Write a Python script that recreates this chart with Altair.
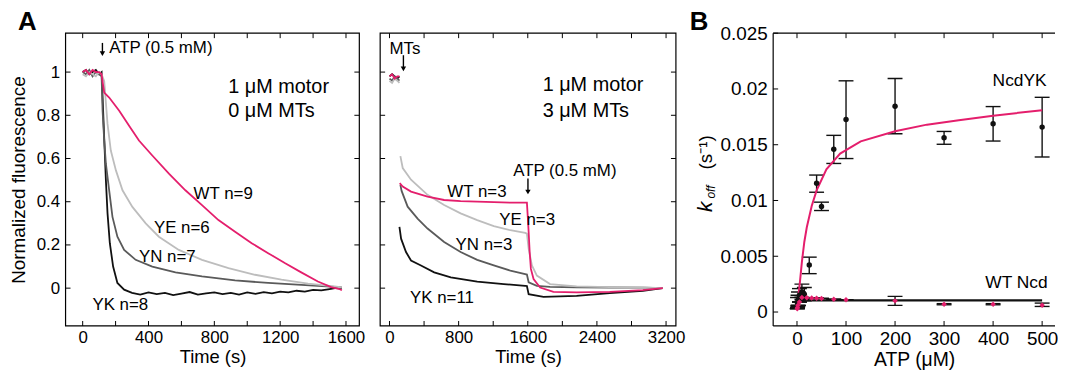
import altair as alt
import pandas as pd

FONT = "Liberation Sans"
PINK = "#e41e6c"
LGRAY = "#bdbdbd"
DGRAY = "#5a5a5a"
BLACK = "#111111"

# ---------------- Panel A (left): 1 uM motor, 0 uM MTs ----------------
a0_wt_t = [0, 20, 40, 60, 80, 100, 115, 122, 131, 161, 222, 282, 342, 423, 524, 624, 725, 825, 926, 1027, 1127, 1228, 1328, 1429, 1510, 1560, 1575]
a0_wt_v = [1.0, 1.01, 0.99, 1.01, 1.0, 1.0, 0.99, 0.95, 0.905, 0.882, 0.821, 0.752, 0.683, 0.614, 0.53, 0.453, 0.384, 0.315, 0.261, 0.208, 0.162, 0.116, 0.073, 0.031, 0.005, -0.004, -0.01]
a0_ye_t = [0, 20, 40, 60, 80, 100, 115, 131, 151, 171, 202, 242, 302, 383, 463, 584, 725, 886, 1047, 1208, 1369, 1530, 1575]
a0_ye_v = [0.99, 0.98, 1.0, 0.99, 0.98, 1.0, 0.99, 0.958, 0.76, 0.637, 0.545, 0.453, 0.376, 0.3, 0.238, 0.177, 0.131, 0.093, 0.062, 0.039, 0.021, 0.008, 0.003]
a0_yn_t = [0, 20, 40, 60, 80, 100, 115, 121, 131, 141, 161, 181, 211, 252, 322, 423, 564, 725, 926, 1127, 1328, 1530, 1575]
a0_yn_v = [1.0, 0.99, 1.01, 0.98, 1.0, 0.99, 0.98, 0.82, 0.683, 0.576, 0.453, 0.33, 0.238, 0.177, 0.131, 0.1, 0.073, 0.054, 0.036, 0.024, 0.015, 0.006, 0.004]
a0_yk_t = [0, 20, 40, 60, 80, 100, 115, 125, 133, 141, 151, 165, 185, 211, 252, 300, 350, 400, 450, 500, 550, 600, 650, 700, 750, 800, 850, 900, 950, 1000, 1050, 1100, 1150, 1200, 1250, 1300, 1350, 1400, 1450, 1500, 1550, 1575]
a0_yk_v = [1.0, 1.01, 0.99, 1.0, 1.01, 0.99, 1.0, 0.806, 0.652, 0.499, 0.346, 0.208, 0.1, 0.024, -0.007, -0.022, -0.03, -0.02, -0.028, -0.022, -0.032, -0.025, -0.018, -0.03, -0.024, -0.02, -0.028, -0.022, -0.03, -0.02, -0.026, -0.018, -0.024, -0.016, -0.02, -0.012, -0.016, -0.008, -0.01, -0.004, 0.002, 0.0]

# ---------------- Panel A (right): 1 uM motor, 3 uM MTs ----------------
a3_base_t = [0, 30, 60, 90, 115]
a3_wt_base = [0.98, 0.99, 0.97, 0.98, 0.98]
a3_ye_base = [0.96, 0.95, 0.97, 0.96, 0.95]
a3_yn_base = [0.97, 0.96, 0.98, 0.97, 0.96]
a3_yk_base = [0.98, 0.99, 0.98, 0.97, 0.98]
a3_wt_t = [118, 153, 249, 440, 632, 823, 1015, 1207, 1398, 1590, 1600, 1610, 1622, 1636, 1667, 1743, 1897, 2165, 2548, 2932, 3162]
a3_wt_v = [0.486, 0.47, 0.447, 0.424, 0.408, 0.403, 0.4, 0.398, 0.396, 0.396, 0.33, 0.26, 0.167, 0.089, 0.042, 0.003, -0.017, -0.02, -0.017, -0.009, 0.0]
a3_ye_t = [126, 153, 249, 440, 632, 823, 1015, 1207, 1398, 1570, 1590, 1610, 1648, 1705, 1858, 2165, 2548, 2932, 3162]
a3_ye_v = [0.611, 0.556, 0.502, 0.432, 0.385, 0.346, 0.315, 0.287, 0.268, 0.256, 0.252, 0.182, 0.105, 0.058, 0.019, 0.008, 0.005, 0.003, 0.0]
a3_yn_t = [126, 140, 210, 325, 440, 632, 823, 1015, 1207, 1398, 1570, 1590, 1610, 1705, 1858, 2165, 2548, 2932, 3162]
a3_yn_v = [0.478, 0.45, 0.377, 0.322, 0.276, 0.214, 0.167, 0.131, 0.105, 0.081, 0.065, 0.063, 0.027, 0.011, 0.006, 0.004, 0.003, 0.002, 0.0]
a3_yk_t = [115, 134, 191, 249, 364, 517, 709, 1015, 1322, 1570, 1590, 1610, 1782, 2165, 2548, 2932, 3162]
a3_yk_v = [0.284, 0.229, 0.167, 0.128, 0.105, 0.073, 0.05, 0.03, 0.019, 0.011, 0.01, -0.028, -0.04, -0.036, -0.023, -0.012, 0.0]

# ---------------- Panel B: k_off vs ATP ----------------
yk_atp = [1, 2, 3, 5, 10, 15, 25, 40, 50, 75, 100, 200, 300, 400, 500]
yk_k = [0.0008, 0.0010, 0.0012, 0.0015, 0.0018, 0.0016, 0.00421, 0.01154, 0.00946, 0.01459, 0.01726, 0.01845, 0.01563, 0.01688, 0.01658]
yk_lo = [0.0003, 0.0005, 0.0006, 0.0009, 0.0011, 0.0010, 0.00344, 0.01074, 0.0091, 0.01332, 0.01376, 0.01599, 0.01504, 0.01533, 0.0139]
yk_hi = [0.0013, 0.0015, 0.0018, 0.0021, 0.0025, 0.0022, 0.00492, 0.01228, 0.00985, 0.01584, 0.02073, 0.02094, 0.01619, 0.01842, 0.01925]
wt_atp = [0.5, 1, 2, 5, 10, 20, 30, 40, 50, 75, 100, 200, 300, 400, 500]
wt_k = [0.0003, 0.0004, 0.0006, 0.0009, 0.0013, 0.00128, 0.00125, 0.00124, 0.00122, 0.00115, 0.0011, 0.001, 0.0007, 0.0007, 0.0006]
wt_lo = [0.0003, 0.0004, 0.0006, 0.0009, 0.0013, 0.00128, 0.00125, 0.00124, 0.00122, 0.00115, 0.0011, 0.0006, 0.00065, 0.00065, 0.0005]
wt_hi = [0.0003, 0.0004, 0.0006, 0.0009, 0.0013, 0.00128, 0.00125, 0.00124, 0.00122, 0.00115, 0.0011, 0.0014, 0.00075, 0.00075, 0.0008]
yk_fit_atp = [0, 3, 6, 10, 15, 20, 30, 40, 60, 88, 130, 200, 265, 330, 400, 500]
yk_fit_k = [0.0003, 0.0015, 0.0027, 0.0045, 0.0063, 0.0076, 0.0095, 0.0109, 0.0128, 0.0142, 0.0153, 0.0162, 0.0168, 0.0172, 0.0176, 0.0181]
wt_fit_atp = [0, 500]
wt_fit_k = [0.00105, 0.00105]

# ---------------- layout constants ----------------
W1, W2, WS, W3, H = 296, 298, 56, 284, 295
SERIES = ["YK", "YN", "YE", "WT"]
COLORS = [BLACK, DGRAY, LGRAY, PINK]
ONE = pd.DataFrame({"a": [0]})


def series_df(items):
    rows = []
    for name, seg, ts, vs in items:
        for t, v in zip(ts, vs):
            rows.append({"t": t, "v": v, "series": name, "seg": seg})
    return pd.DataFrame(rows)


class Panel:
    """Holds the scales and axes of one panel so every layer shares them."""

    def __init__(self, xs, ys, ax, ay):
        self.xs, self.ys, self.ax, self.ay = xs, ys, ax, ay

    def X(self, f):
        return alt.X(f, scale=self.xs, axis=self.ax)

    def Y(self, f):
        return alt.Y(f, scale=self.ys, axis=self.ay)


def inner_ticks(P, xvals, yvals, w, h, right=True, L=5):
    dx = pd.DataFrame({"tick": xvals})
    dy = pd.DataFrame({"tick": yvals})
    st = dict(color="black", strokeWidth=1)
    out = [
        alt.Chart(dx).mark_rule(**st).encode(x=P.X("tick:Q"), y=alt.value(h), y2=alt.value(h - L)),
        alt.Chart(dx).mark_rule(**st).encode(x=P.X("tick:Q"), y=alt.value(0), y2=alt.value(L)),
        alt.Chart(dy).mark_rule(**st).encode(y=P.Y("tick:Q"), x=alt.value(0), x2=alt.value(L)),
    ]
    if right:
        out.append(alt.Chart(dy).mark_rule(**st).encode(y=P.Y("tick:Q"), x=alt.value(w), x2=alt.value(w - L)))
    return out


def box(w, h):
    return alt.Chart(ONE).mark_rect(filled=False, stroke="black", strokeWidth=1.2).encode(
        x=alt.value(0), x2=alt.value(w), y=alt.value(0), y2=alt.value(h))


def open_box(w, h):
    st = dict(color="black", strokeWidth=1.2)
    return [
        alt.Chart(ONE).mark_rule(**st).encode(x=alt.value(0), x2=alt.value(w), y=alt.value(0)),
        alt.Chart(ONE).mark_rule(**st).encode(x=alt.value(0), x2=alt.value(w), y=alt.value(h)),
        alt.Chart(ONE).mark_rule(**st).encode(x=alt.value(0), y=alt.value(0), y2=alt.value(h)),
    ]


def labels(P, rows, size, align="left"):
    df = pd.DataFrame(rows, columns=["label", "t", "v"])
    return alt.Chart(df).mark_text(align=align, baseline="middle", fontSize=size, color="black").encode(
        x=P.X("t:Q"), y=P.Y("v:Q"), text="label:N")


def arrow(P, t, v1, v2):
    d = pd.DataFrame({"t": [t], "v1": [v1], "v2": [v2]})
    shaft = alt.Chart(d).mark_rule(color="black", strokeWidth=1.4).encode(
        x=P.X("t:Q"), y=P.Y("v1:Q"), y2="v2:Q")
    head = alt.Chart(d).mark_point(shape="triangle-down", filled=True, color="black", size=30, opacity=1).encode(
        x=P.X("t:Q"), y=P.Y("v2:Q"))
    return [shaft, head]


def panel_letter(letter, dx, dy):
    return alt.Chart(ONE).mark_text(text=letter, align="left", baseline="top", fontSize=26,
                                    fontWeight="bold", color="black").encode(
        x=alt.value(dx), y=alt.value(dy))


ys_a = alt.Scale(domain=[-0.175, 1.18], nice=False, zero=False)
color_scale = alt.Scale(domain=SERIES, range=COLORS)
AY_A = alt.Axis(values=[0, 0.2, 0.4, 0.6, 0.8, 1], format="~g", title="Normalized fluorescence",
                domain=False, ticks=False, grid=False, labelPadding=6, titlePadding=8,
                labelFontSize=17, titleFontSize=19)

# ---------- Panel A left ----------
P1 = Panel(alt.Scale(domain=[-104, 1681], nice=False, zero=False), ys_a,
           alt.Axis(values=[0, 400, 800, 1200, 1600], format="d", title="Time (s)", domain=False,
                    ticks=False, grid=False, labelPadding=4, titlePadding=2, labelFontSize=17,
                    titleFontSize=18.5),
           AY_A)
d1 = series_df([
    ("YK", "YK", a0_yk_t, a0_yk_v),
    ("YN", "YN", a0_yn_t, a0_yn_v),
    ("YE", "YE", a0_ye_t, a0_ye_v),
    ("WT", "WT", a0_wt_t, a0_wt_v),
])
lines1 = alt.Chart(d1).mark_line(strokeWidth=1.8).encode(
    x=P1.X("t:Q"), y=P1.Y("v:Q"),
    color=alt.Color("series:N", scale=color_scale, legend=None),
    detail="seg:N",
)
p1 = alt.layer(
    lines1,
    *inner_ticks(P1, list(range(0, 1601, 200)), [0, 0.2, 0.4, 0.6, 0.8, 1.0], W1, H),
    box(W1, H),
    labels(P1, [("ATP (0.5 mM)", 161, 1.11)], 17),
    *arrow(P1, 120, 1.135, 1.085),
    labels(P1, [("1 μM motor", 885, 0.929), ("0 μM MTs", 885, 0.821)], 20),
    labels(P1, [("WT n=9", 674, 0.437), ("YE n=6", 433, 0.278), ("YN n=7", 342, 0.145), ("YK n=8", 59, -0.076)], 17),
    panel_letter("A", -48, -24),
).properties(width=W1, height=H)

# ---------- Panel A right ----------
P2 = Panel(alt.Scale(domain=[-108, 3314], nice=False, zero=False), ys_a,
           alt.Axis(values=[0, 800, 1600, 2400, 3200], format="d", title="Time (s)", domain=False,
                    ticks=False, grid=False, labelPadding=4, titlePadding=2, labelFontSize=17,
                    titleFontSize=18.5),
           None)
d2 = series_df([
    ("YK", "YKb", a3_base_t, a3_yk_base),
    ("YN", "YNb", a3_base_t, a3_yn_base),
    ("YE", "YEb", a3_base_t, a3_ye_base),
    ("WT", "WTb", a3_base_t, a3_wt_base),
    ("YK", "YK", a3_yk_t, a3_yk_v),
    ("YN", "YN", a3_yn_t, a3_yn_v),
    ("YE", "YE", a3_ye_t, a3_ye_v),
    ("WT", "WT", a3_wt_t, a3_wt_v),
])
lines2 = alt.Chart(d2).mark_line(strokeWidth=1.8).encode(
    x=P2.X("t:Q"), y=P2.Y("v:Q"),
    color=alt.Color("series:N", scale=color_scale, legend=None),
    detail="seg:N",
)
p2 = alt.layer(
    lines2,
    *inner_ticks(P2, list(range(0, 3201, 400)), [0, 0.2, 0.4, 0.6, 0.8, 1.0], W2, H),
    box(W2, H),
    labels(P2, [("MTs", 0, 1.106)], 17),
    *arrow(P2, 161, 1.078, 1.015),
    labels(P2, [("ATP (0.5 mM)", 1431, 0.541)], 17),
    *arrow(P2, 1602, 0.507, 0.445),
    labels(P2, [("1 μM motor", 1772, 0.938), ("3 μM MTs", 1772, 0.821)], 20),
    labels(P2, [("WT n=3", 669, 0.447), ("YE n=3", 1270, 0.316), ("YN n=3", 765, 0.2), ("YK n=11", 237, -0.044)], 17),
).properties(width=W2, height=H)

spacer = alt.Chart(ONE).mark_point(opacity=0).encode(
    x=alt.X("a:Q", axis=None), y=alt.Y("a:Q", axis=None)
).properties(width=WS, height=H)

# ---------- Panel B ----------
P3 = Panel(alt.Scale(domain=[-48.6, 526.3], nice=False, zero=False),
           alt.Scale(domain=[-0.00125, 0.025], nice=False, zero=False),
           alt.Axis(values=[0, 100, 200, 300, 400, 500], format="d", title="ATP (μM)", domain=False,
                    ticks=False, grid=False, labelPadding=4, titlePadding=2, labelFontSize=19,
                    titleFontSize=19.5),
           alt.Axis(values=[0, 0.005, 0.01, 0.015, 0.02, 0.025], format="~g", title="", domain=False,
                    ticks=False, grid=False, labelPadding=6, labelFontSize=19))
yk_df = pd.DataFrame({"atp": yk_atp, "k": yk_k, "lo": yk_lo, "hi": yk_hi})
wt_df = pd.DataFrame({"atp": wt_atp, "k": wt_k, "lo": wt_lo, "hi": wt_hi})
ykfit_df = pd.DataFrame({"atp": yk_fit_atp, "k": yk_fit_k})
wtfit_df = pd.DataFrame({"atp": wt_fit_atp, "k": wt_fit_k})


def errbars(df):
    cap = dict(orient="horizontal", size=15, thickness=1.4, color=BLACK, opacity=1)
    return [
        alt.Chart(df).mark_rule(color=BLACK, strokeWidth=1.4).encode(x=P3.X("atp:Q"), y=P3.Y("lo:Q"), y2="hi:Q"),
        alt.Chart(df).mark_tick(**cap).encode(x=P3.X("atp:Q"), y=P3.Y("lo:Q")),
        alt.Chart(df).mark_tick(**cap).encode(x=P3.X("atp:Q"), y=P3.Y("hi:Q")),
    ]


ytitle = [
    alt.Chart(ONE).mark_text(text="k", angle=270, align="center", baseline="middle", fontSize=21,
                             fontStyle="italic", color="black").encode(x=alt.value(-68), y=alt.value(175)),
    alt.Chart(ONE).mark_text(text="off", angle=270, align="center", baseline="middle", fontSize=12,
                             fontStyle="italic", color="black").encode(x=alt.value(-63), y=alt.value(160)),
    alt.Chart(ONE).mark_text(text="(s⁻¹)", angle=270, align="center", baseline="middle", fontSize=19,
                             color="black").encode(x=alt.value(-68), y=alt.value(120)),
]
p3 = alt.layer(
    *errbars(yk_df),
    *errbars(wt_df),
    alt.Chart(wtfit_df).mark_line(color=BLACK, strokeWidth=2.2).encode(x=P3.X("atp:Q"), y=P3.Y("k:Q")),
    alt.Chart(ykfit_df).mark_line(color=PINK, strokeWidth=2).encode(x=P3.X("atp:Q"), y=P3.Y("k:Q")),
    alt.Chart(yk_df).mark_circle(size=30, color=BLACK, opacity=1).encode(x=P3.X("atp:Q"), y=P3.Y("k:Q")),
    alt.Chart(wt_df).mark_point(shape="diamond", filled=True, size=30, color=PINK, opacity=1).encode(
        x=P3.X("atp:Q"), y=P3.Y("k:Q")),
    *inner_ticks(P3, [0, 100, 200, 300, 400, 500], [0, 0.005, 0.01, 0.015, 0.02, 0.025], W3, H, right=False),
    *open_box(W3, H),
    labels(P3, [("NcdYK", 399, 0.02067), ("WT Ncd", 384, 0.00264)], 17.5),
    *ytitle,
    panel_letter("B", -84, -24),
).properties(width=W3, height=H)

chart = alt.hconcat(p1, p2, spacer, p3, spacing=21, bounds="flush").properties(
    padding={"left": 1, "top": 0, "right": 0, "bottom": 0}
).configure(font=FONT).configure_view(strokeOpacity=0).configure_axis(
    labelColor="black", titleColor="black", titleFontWeight="normal", labelFont=FONT, titleFont=FONT
)

chart.save("out.html", embed_options={"renderer": "svg", "actions": False})
